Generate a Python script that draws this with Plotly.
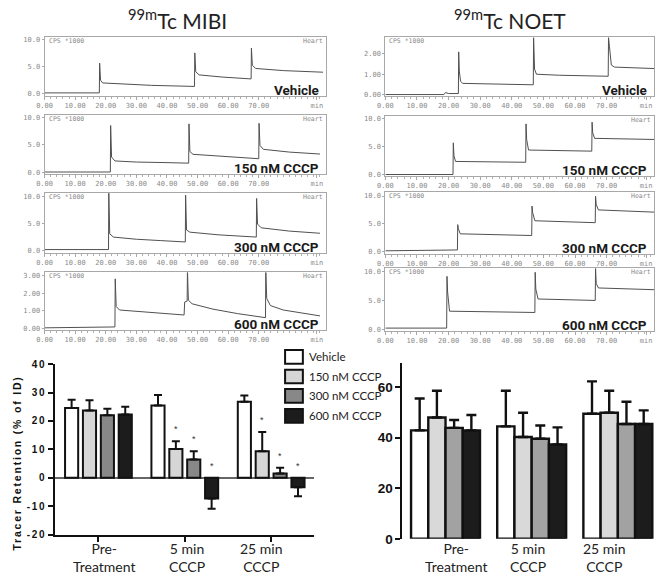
import plotly.graph_objects as go

W, H = 657, 579

# ---------------- data: time-activity traces (min, CPS*1000) ----------------
mibi_vehicle_t = [0, 17.9, 18.0, 18.3, 19.0, 25, 35, 49.0, 49.1, 49.4, 50.5, 58, 67.5, 67.6, 67.9, 69.0, 78, 91]
mibi_vehicle_v = [0.05, 0.05, 5.6, 2.4, 1.9, 1.7, 1.45, 1.25, 7.5, 4.0, 3.4, 3.0, 2.65, 8.4, 5.2, 4.6, 4.2, 3.9]

mibi_150_t = [0, 21.5, 21.6, 21.9, 23, 30, 40, 47.1, 47.2, 47.5, 48.5, 58, 70.0, 70.1, 70.4, 71.5, 80, 90]
mibi_150_v = [0.1, 0.1, 8.5, 2.8, 2.1, 1.9, 1.8, 1.7, 8.8, 3.8, 3.3, 2.9, 2.5, 8.9, 4.9, 4.2, 3.7, 3.35]

mibi_300_t = [0, 20.9, 21.0, 21.3, 22.5, 30, 38, 46.0, 46.1, 46.4, 47.5, 57, 69.2, 69.3, 69.6, 70.8, 80, 90]
mibi_300_v = [0.2, 0.2, 10.6, 3.1, 2.5, 2.1, 1.85, 1.6, 10.2, 3.8, 3.4, 2.9, 2.5, 9.6, 4.9, 4.2, 3.6, 3.2]

mibi_600_t = [0, 10, 23.0, 23.1, 23.4, 24.5, 32, 40, 45.6, 45.8, 46.6, 46.7, 47.0, 48.2, 55, 63, 72.2, 72.3, 72.6, 73.8, 78, 90]
mibi_600_v = [0.05, 0.08, 0.1, 2.8, 1.25, 1.05, 0.95, 0.85, 0.77, 1.5, 1.55, 3.3, 1.6, 1.4, 1.1, 0.85, 0.62, 3.3, 1.7, 1.3, 1.05, 0.72]

noet_vehicle_t = [0, 18.5, 19.0, 20.0, 23.1, 23.2, 23.4, 23.8, 24.5, 35, 46.8, 46.9, 47.2, 47.8, 55, 70.5, 70.6, 70.9, 71.5, 72.5, 85]
noet_vehicle_v = [0.0, 0.0, 0.1, 0.05, 0.05, 2.1, 1.15, 0.65, 0.55, 0.5, 0.48, 2.8, 1.25, 1.0, 0.95, 0.9, 2.8, 2.35, 1.45, 1.35, 1.28]

noet_150_t = [0, 21.4, 21.5, 21.7, 22.2, 30, 44.4, 44.5, 44.7, 45.3, 55, 65.3, 65.4, 65.6, 66.2, 75, 85]
noet_150_v = [0.0, 0.0, 5.7, 3.4, 2.35, 2.3, 2.2, 9.1, 6.3, 4.4, 4.3, 4.2, 9.4, 7.5, 6.5, 6.4, 6.3]

noet_300_t = [0, 22.8, 22.9, 23.1, 23.7, 35, 46.3, 46.4, 46.6, 47.3, 57, 66.4, 66.5, 66.7, 67.4, 76, 85]
noet_300_v = [0.15, 0.3, 4.85, 4.1, 3.2, 3.05, 2.9, 8.2, 7.0, 5.55, 5.35, 5.2, 9.95, 8.5, 7.5, 7.3, 7.1]

noet_600_t = [0, 19.4, 19.5, 19.7, 20.3, 33, 47.3, 47.4, 47.6, 48.3, 57, 66.4, 66.5, 66.7, 67.4, 76, 85]
noet_600_v = [0.29, 0.29, 9.2, 6.5, 3.2, 3.1, 2.98, 9.9, 7.0, 5.3, 5.15, 5.05, 10.6, 8.0, 7.2, 7.05, 6.9]

panel_labels = ["Vehicle", "150 nM CCCP", "300 nM CCCP", "600 nM CCCP"]
time_ticks = [0, 10, 20, 30, 40, 50, 60, 70]
time_tick_labels = ["0.00", "10.00", "20.00", "30.00", "40.00", "50.00", "60.00", "70.00"]

# ---------------- data: tracer retention bars ----------------
categories = ["Pre-Treatment", "5 min CCCP", "25 min CCCP"]
category_labels = ["Pre-<br>Treatment", "5 min<br>CCCP", "25 min<br>CCCP"]
series_names = ["Vehicle", "150 nM CCCP", "300 nM CCCP", "600 nM CCCP"]

mibi_vehicle_ret = [24.6, 25.4, 26.8]
mibi_vehicle_err = [2.9, 3.7, 2.2]
mibi_150_ret = [23.7, 10.1, 9.3]
mibi_150_err = [3.6, 2.8, 6.8]
mibi_300_ret = [22.0, 6.4, 1.5]
mibi_300_err = [2.3, 2.9, 2.0]
mibi_600_ret = [22.3, -7.3, -3.3]
mibi_600_err = [2.7, 3.6, 3.2]
mibi_significant = [[False, False, False], [False, True, True], [False, True, True], [False, True, True]]

noet_vehicle_ret = [42.9, 44.5, 49.5]
noet_vehicle_err = [12.6, 14.1, 12.8]
noet_150_ret = [48.0, 40.3, 49.9]
noet_150_err = [10.6, 9.6, 8.7]
noet_300_ret = [43.9, 39.6, 45.4]
noet_300_err = [3.1, 5.2, 8.8]
noet_600_ret = [42.9, 37.3, 45.4]
noet_600_err = [6.1, 6.8, 5.4]

mibi_y_ticks = [-20, -10, 0, 10, 20, 30, 40]
noet_y_ticks = [0, 20, 40, 60]

# ---------------- helpers ----------------
def fx(p):
    return p / W

def fy(p):
    return 1 - p / H

fig = go.Figure()
layout = dict(width=W, height=H, margin=dict(l=0, r=0, t=0, b=0),
              paper_bgcolor="white", plot_bgcolor="white", showlegend=False,
              barmode="overlay")
annotations = []
shapes = []

MONO = "DejaVu Sans Mono"
CAL = "Lato"
LABEL_FONT = "Liberation Sans Narrow, Roboto, Lato"

trace_sets = [
    (mibi_vehicle_t, mibi_vehicle_v), (mibi_150_t, mibi_150_v), (mibi_300_t, mibi_300_v), (mibi_600_t, mibi_600_v),
    (noet_vehicle_t, noet_vehicle_v), (noet_150_t, noet_150_v), (noet_300_t, noet_300_v), (noet_600_t, noet_600_v),
]
ytk10 = ([0, 5, 10], ["0.0", "5.0", "10.0"])
panel_cfg = [
    dict(box=(37, 322, 32, 92), xr=[0, 92], yr=[-0.49, 10.42], yt=ytk10, cps=True, heart=True, minx=89),
    dict(box=(37, 322, 112, 172), xr=[0, 92], yr=[-0.23, 10.35], yt=ytk10, cps=True, heart=True, minx=89),
    dict(box=(37, 322, 192, 253), xr=[0, 92], yr=[-0.41, 10.54], yt=ytk10, cps=True, heart=True, minx=89),
    dict(box=(37, 322, 273, 332), xr=[0, 92], yr=[-0.07, 3.16], yt=([0, 1, 2, 3], ["0.00", "1.00", "2.00", "3.00"]), cps=True, heart=True, minx=89),
    dict(box=(382, 654, 32, 92), xr=[0, 85], yr=[-0.06, 2.82], yt=([0, 1, 2], ["0.00", "1.00", "2.00"]), cps=True, heart=False, minx=82.5),
    dict(box=(382, 654, 113, 174), xr=[0, 85], yr=[-0.23, 10.47], yt=ytk10, cps=False, heart=True, minx=82.5),
    dict(box=(382, 654, 191, 254), xr=[0, 85], yr=[-0.4, 10.65], yt=ytk10, cps=True, heart=True, minx=82.5),
    dict(box=(382, 654, 269, 333), xr=[0, 85], yr=[-0.2, 10.55], yt=ytk10, cps=True, heart=True, minx=82.5),
]

for i, ((t, v), cfg) in enumerate(zip(trace_sets, panel_cfg)):
    n = i + 1
    xa = "x" if n == 1 else f"x{n}"
    ya = "y" if n == 1 else f"y{n}"
    fig.add_trace(go.Scatter(x=t, y=v, mode="lines", line=dict(color="#505050", width=1),
                             xaxis=xa, yaxis=ya, hoverinfo="skip"))
    x0, x1, y0, y1 = cfg["box"]
    axis_common = dict(showgrid=False, zeroline=False, showline=True, mirror=True,
                       linecolor="#a8a8a8", linewidth=1, ticks="outside", ticklen=3,
                       tickcolor="#a8a8a8", tickfont=dict(family=MONO, size=7, color="#8a8a8a"))
    layout["xaxis" + ("" if n == 1 else str(n))] = dict(
        axis_common, domain=[fx(x0), fx(x1)], range=cfg["xr"], anchor=ya,
        tickmode="array", tickvals=time_ticks + [cfg["minx"]], ticktext=time_tick_labels + ["min"],
        minor=dict(ticks="outside", ticklen=2, tickcolor="#b0b0b0", tickvals=list(range(0, int(cfg["xr"][1]), 2))))
    layout["yaxis" + ("" if n == 1 else str(n))] = dict(
        axis_common, domain=[fy(y1), fy(y0)], range=cfg["yr"], anchor=xa,
        tickmode="array", tickvals=cfg["yt"][0], ticktext=cfg["yt"][1], ticklen=2)
    if cfg["cps"]:
        annotations.append(dict(text="CPS *1000", xref="paper", yref="paper", x=fx(x0 + 2), y=fy(y0 + 4),
                                xanchor="left", yanchor="middle", showarrow=False,
                                font=dict(family=MONO, size=6.5, color="#8a8a8a")))
    if cfg["heart"]:
        annotations.append(dict(text="Heart", xref="paper", yref="paper", x=fx(x1 - 1), y=fy(y0 + 4),
                                xanchor="right", yanchor="middle", showarrow=False,
                                font=dict(family=MONO, size=6.5, color="#8a8a8a")))
    annotations.append(dict(text=panel_labels[i % 4], xref="paper", yref="paper", x=fx(x1 - 5), y=fy(y1 - 6),
                            xanchor="right", yanchor="middle", showarrow=False,
                            font=dict(family=LABEL_FONT, size=13.5, color="#1a1a1a", weight="bold")))

# titles
annotations.append(dict(text="<sup>99m</sup>Tc MIBI", xref="paper", yref="paper", x=fx(172), y=fy(13),
                        xanchor="center", yanchor="middle", showarrow=False,
                        font=dict(family=CAL, size=21, color="#222")))
annotations.append(dict(text="<sup>99m</sup>Tc NOET", xref="paper", yref="paper", x=fx(508), y=fy(13),
                        xanchor="center", yanchor="middle", showarrow=False,
                        font=dict(family=CAL, size=21, color="#222")))

# ---------------- bar charts ----------------
mibi_vals = [mibi_vehicle_ret, mibi_150_ret, mibi_300_ret, mibi_600_ret]
mibi_errs = [mibi_vehicle_err, mibi_150_err, mibi_300_err, mibi_600_err]
noet_vals = [noet_vehicle_ret, noet_150_ret, noet_300_ret, noet_600_ret]
noet_errs = [noet_vehicle_err, noet_150_err, noet_300_err, noet_600_err]

mibi_colors = ["#ffffff", "#d6d6d6", "#888888", "#1c1c1c"]
noet_colors = ["#ffffff", "#d9d9d9", "#a2a2a2", "#1c1c1c"]

# MIBI (x9/y9)
m_slot, m_w, m_start = 0.207, 0.152, -0.385
for s in range(4):
    vals = mibi_vals[s]
    errs = mibi_errs[s]
    up = [e if v >= 0 else 0 for v, e in zip(vals, errs)]
    dn = [0 if v >= 0 else e for v, e in zip(vals, errs)]
    off = m_start + s * m_slot
    fig.add_trace(go.Bar(x=categories, y=vals, name=series_names[s], xaxis="x9", yaxis="y9",
                         width=m_w, offset=off,
                         marker=dict(color=mibi_colors[s], line=dict(color="#111", width=2)),
                         error_y=dict(type="data", symmetric=False, array=up, arrayminus=dn,
                                      color="#111", thickness=2, width=4), hoverinfo="skip"))
    for c in range(3):
        if mibi_significant[s][c]:
            top = max(vals[c] + up[c], 0)
            annotations.append(dict(text="*", xref="x9", yref="y9", x=c + off + m_w / 2, y=top + 4.2,
                                    xanchor="center", yanchor="middle", showarrow=False,
                                    font=dict(family="Liberation Sans", size=9, color="#333")))

sp = '<span style="letter-spacing:1.6px">'
layout["xaxis9"] = dict(domain=[fx(47.7), fx(310)], range=[-0.5, 2.5], type="category", anchor="y9",
                        showgrid=False, zeroline=False, showline=True, linecolor="#111", linewidth=2,
                        ticks="outside", ticklen=5, tickwidth=2, tickcolor="#111", showticklabels=False)
layout["yaxis9"] = dict(domain=[fy(541.7), fy(367)], range=[-20, 40], anchor="x9",
                        showgrid=False, zeroline=True, zerolinecolor="#666", zerolinewidth=1.5,
                        showline=True, linecolor="#111", linewidth=2,
                        ticks="outside", ticklen=5, tickwidth=2, tickcolor="#111",
                        tickmode="array", tickvals=mibi_y_ticks,
                        ticktext=[sp + str(v) + "</span>" for v in mibi_y_ticks],
                        tickfont=dict(family="Liberation Sans", size=10, color="#111", weight="bold"))

# NOET (x10/y10)
n_slot, n_w, n_start = 0.2, 0.2, -0.4
for s in range(4):
    vals = noet_vals[s]
    errs = noet_errs[s]
    off = n_start + s * n_slot
    fig.add_trace(go.Bar(x=categories, y=vals, name=series_names[s], xaxis="x10", yaxis="y10",
                         width=n_w, offset=off,
                         marker=dict(color=noet_colors[s], line=dict(color="#111", width=2.4)),
                         error_y=dict(type="data", symmetric=False, array=errs, arrayminus=[0, 0, 0],
                                      color="#111", thickness=2.4, width=5), hoverinfo="skip"))

layout["xaxis10"] = dict(domain=[fx(399.3), fx(654)], range=[-0.5, 2.42], type="category", anchor="y10",
                         showgrid=False, zeroline=False, showline=False, ticks="", showticklabels=False)
layout["yaxis10"] = dict(domain=[fy(546), fy(366)], range=[0, 69.5], anchor="x10",
                         showgrid=False, zeroline=False, showline=True, linecolor="#111", linewidth=2,
                         ticks="outside", ticklen=5, tickwidth=2, tickcolor="#111",
                         tickmode="array", tickvals=noet_y_ticks,
                         tickfont=dict(family="Liberation Sans", size=13.5, color="#111", weight="bold"))

# category labels
for c, px in enumerate([96.7, 181.7, 256.7]):
    annotations.append(dict(text=category_labels[c], xref="paper", yref="paper", x=fx(px), y=fy(565),
                            xanchor="center", yanchor="middle", showarrow=False,
                            font=dict(family=CAL, size=14, color="#222")))
for c, px in enumerate([454, 526.7, 604]):
    annotations.append(dict(text=category_labels[c], xref="paper", yref="paper", x=fx(px), y=fy(565),
                            xanchor="center", yanchor="middle", showarrow=False,
                            font=dict(family=CAL, size=14, color="#222")))

# y-axis title
annotations.append(dict(text='<span style="letter-spacing:1.8px">Tracer Retention (% of ID)</span>',
                        xref="paper", yref="paper", x=fx(9), y=fy(468), textangle=-90,
                        xanchor="center", yanchor="middle", showarrow=False,
                        font=dict(family="Liberation Sans", size=10.5, color="#111", weight="bold")))

# legend (manual)
for s, cy in enumerate([359.5, 379.7, 399.5, 420]):
    shapes.append(dict(type="rect", xref="paper", yref="paper", x0=fx(280.5), x1=fx(298.5),
                       y0=fy(cy - 7), y1=fy(cy + 7), fillcolor=mibi_colors[s],
                       line=dict(color="#111", width=2)))
    annotations.append(dict(text=series_names[s], xref="paper", yref="paper", x=fx(303), y=fy(cy),
                            xanchor="left", yanchor="middle", showarrow=False,
                            font=dict(family=CAL, size=11.5, color="#222")))

layout["annotations"] = annotations
layout["shapes"] = shapes
fig.update_layout(**layout)
fig.write_html("out.html", config={"displayModeBar": False},
               post_script="document.body.style.margin='0px';")
